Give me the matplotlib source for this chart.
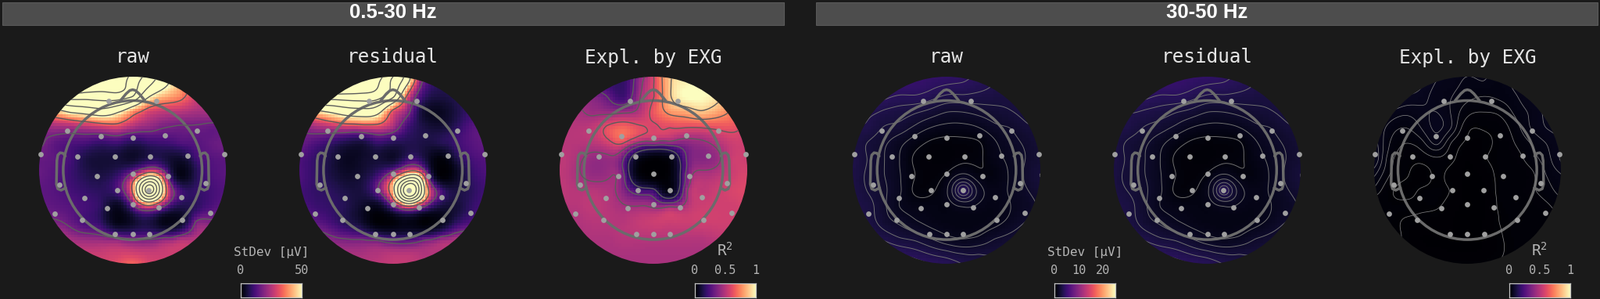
#topomaps of raw, residual and explained variance for two frequency bands

import numpy as np
import matplotlib
matplotlib.use('Agg')
import matplotlib.pyplot as plt
from matplotlib.patches import Circle, Rectangle

plt.rcParams['mathtext.fontset'] = 'dejavusans'
plt.rcParams['mathtext.default'] = 'regular'

BG = '#1a1a1a'
W, H = 2047, 382

#electrode positions, head radius units
elec_x = [-.253, .256, -.696, -.340, 0, .348, .691, -.986, -.588, -.189, .189, .588, .983, -.786, -.379, 0,
          .382, .783, -.164, .173, -.513, .518, 0, -.276, .281, -.836, .833, -.538, .532, -.187, 0, .178]
elec_y = [.738, .738, .418, .362, .343, .368, .421, .173, .145, .142, .145, .150, .167, -.153, -.067, -.042,
          -.061, -.139, -.217, -.217, -.295, -.290, -.368, -.407, -.401, -.462, -.457, -.535, -.535, -.685, -.685, -.685]

#nodes of the value tables below, head radius units
node_x = [-1.164, -.997, -.830, -.663, -.496, -.329, -.162, .006, .173, .340, .507, .674, .841, 1.008]
node_y = [1.120, .953, .786, .619, .451, .284, .117, -.050, -.217, -.384, -.552, -.719, -.886, -1.053]

#0.5-30 Hz raw, StDev
raw_low = [
    [150, 150, 150, 150, 150, 150, 135, 108, 85, 65, 48, 38, 28, 22],
    [150, 150, 150, 140, 130, 120, 112, 92, 75, 57, 42, 32, 25, 20],
    [110, 110, 100, 94, 92, 93, 95, 84, 52, 42, 37, 28, 22, 20],
    [42, 42, 44, 52, 56, 60, 52, 38, 29, 26, 25, 23, 23, 22],
    [20, 20, 22, 22, 24, 26, 28, 23, 20, 17, 16, 16, 15, 15],
    [18, 18, 14, 12, 11, 9, 10, 7, 9, 10, 12, 13, 15, 17],
    [15, 15, 14, 11, 6, 5, 5, 4, 7, 6, 4, 10, 13, 14],
    [15, 15, 13, 10, 7, 6, 9, 22, 45, 24, 2, 7, 12, 14],
    [14, 14, 13, 11, 9, 8, 12, 38, 115, 42, 11, 9, 11, 13],
    [15, 15, 14, 13, 11, 8, 3, 16, 32, 17, 7, 8, 12, 15],
    [18, 18, 18, 15, 11, 8, 2, 4, 6, 2, 3, 17, 18, 19],
    [28, 28, 26, 22, 20, 19, 17, 15, 15, 17, 21, 24, 24, 24],
    [27, 27, 27, 27, 27, 27, 28, 28, 27, 27, 27, 27, 27, 27],
    [30, 30, 30, 30, 30, 30, 32, 36, 30, 30, 30, 30, 30, 30],
]

#0.5-30 Hz residual, StDev
residual_low = [
    [150, 150, 150, 150, 150, 145, 125, 100, 60, 32, 15, 10, 10, 10],
    [150, 150, 150, 145, 135, 125, 105, 80, 52, 15, 8, 7, 7, 7],
    [110, 110, 105, 95, 95, 95, 92, 70, 28, 9, 6, 7, 8, 9],
    [42, 42, 46, 52, 58, 60, 55, 30, 18, 4, 3, 6, 10, 12],
    [18, 18, 22, 24, 26, 27, 28, 22, 10, 6, 5, 8, 13, 14],
    [18, 16, 12, 9, 6, 5, 9, 7, 7, 6, 7, 10, 13, 15],
    [13, 12, 9, 6, 3, 4, 5, 4, 10, 6, 1, 6, 11, 13],
    [13, 12, 9, 6, 4, 5, 10, 26, 50, 28, .5, 3, 9, 12],
    [12, 11, 9, 8, 6, 6, 16, 48, 125, 50, 12, 6, 8, 11],
    [12, 12, 10, 9, 7, 4, 3, 17, 36, 18, 6, 5, 9, 12],
    [18, 17, 14, 11, 7, 4, .5, 1, 2, .5, 2, 8, 12, 15],
    [24, 24, 21, 18, 16, 15, 13, 10, 10, 13, 18, 22, 22, 22],
    [24, 24, 24, 24, 23, 23, 24, 25, 25, 24, 24, 24, 24, 24],
    [26, 26, 26, 26, 26, 26, 26, 26, 26, 26, 26, 26, 26, 26],
]

#0.5-30 Hz explained by EXG, R2
expl_low = [
    [.42, .42, .35, .25, .2, .2, .3, .6, .85, .98, 1, 1, 1, 1],
    [.42, .40, .33, .25, .2, .18, .38, .6, .88, .97, 1, 1, 1, .9],
    [.42, .42, .42, .38, .3, .2, .42, .6, .88, 1, 1, .95, .82, .7],
    [.48, .48, .47, .43, .42, .43, .48, .65, .78, .82, .88, .82, .73, .65],
    [.5, .5, .5, .52, .62, .68, .62, .58, .6, .6, .6, .62, .63, .58],
    [.5, .5, .5, .5, .55, .6, .42, .38, .38, .38, .42, .48, .55, .55],
    [.52, .52, .48, .42, .42, .32, .05, .01, .03, .28, .38, .42, .55, .55],
    [.52, .52, .47, .42, .43, .35, .03, 0, .02, .3, .48, .5, .55, .58],
    [.52, .52, .5, .5, .48, .38, .22, .18, .03, .38, .52, .55, .58, .6],
    [.5, .5, .5, .52, .5, .46, .45, .42, .43, .48, .55, .56, .56, .58],
    [.48, .48, .48, .5, .5, .5, .53, .55, .55, .55, .56, .56, .56, .56],
    [.47, .47, .48, .48, .48, .5, .5, .5, .5, .5, .5, .52, .54, .54],
    [.47, .47, .47, .47, .47, .47, .47, .47, .47, .47, .47, .48, .5, .5],
    [.47, .47, .47, .47, .47, .47, .47, .47, .47, .47, .47, .47, .47, .47],
]

#30-50 Hz raw, StDev
raw_high = [
    [5, 5, 5, 5, 5, 5, 5, 4.8, 4.2, 4, 3.8, 3.5, 3.5, 3.5],
    [4.8, 4.8, 4.8, 4.8, 4.8, 4.7, 4.4, 4.2, 4.05, 3.8, 3.4, 3.2, 3.1, 3],
    [4.6, 4.6, 4.6, 4.2, 3.9, 3.9, 3.6, 3.2, 3.2, 3.1, 3, 2.9, 3, 2.9],
    [3.5, 3.5, 3.5, 3.2, 3, 2.75, 2.4, 2, 2, 2.2, 2.4, 2.6, 2.9, 3],
    [3.3, 3.3, 3.2, 2.6, 2.4, 1.8, 1.3, 1.1, 1.1, 1.3, 1.8, 2, 2.5, 2.7],
    [3.4, 3, 2.6, 2.1, 1.5, .9, .55, .45, .5, .6, 1.2, 1.7, 2.1, 2.5],
    [3.6, 3.2, 2.6, 2, 1.3, .55, .4, .35, .55, .6, 1.05, 1.5, 2, 2.4],
    [3.6, 3.1, 2.5, 2, 1.35, .65, .45, .75, 1.45, .85, .8, 1.4, 2.1, 2.7],
    [3.6, 3.1, 2.6, 2.1, 1.4, .55, .6, 1.3, 4.2, 1.75, 1.1, 1.4, 1.9, 2.4],
    [3.6, 3.2, 2.9, 2.1, 1.3, 1, .9, .95, 1.4, 1.2, 1, 1.3, 1.7, 2.1],
    [4, 3.4, 3, 2.3, 1.85, 1.4, 1.1, .95, .9, .95, 1.1, 1.5, 2, 2.2],
    [4.3, 4, 3.6, 3.1, 2.65, 2.4, 1.9, 1.45, 1.25, 1.4, 1.9, 2.2, 2.5, 2.6],
    [4.5, 4.5, 4.4, 4.2, 3.9, 3.6, 3.2, 2.9, 2.6, 2.6, 2.6, 2.7, 2.8, 2.8],
    [5, 5, 5, 5, 5, 4.6, 4.3, 4, 3.5, 3, 3, 3, 3, 3],
]

#30-50 Hz residual, StDev
residual_high = [
    [5, 5, 5, 5, 5, 5, 5, 4.8, 4.2, 4, 3.8, 3.5, 3.5, 3.5],
    [4.8, 4.8, 4.8, 4.8, 4.8, 4.7, 4.4, 4.2, 4.05, 3.8, 3.4, 3.2, 3.1, 3],
    [4.6, 4.6, 4.6, 4.2, 3.9, 3.9, 3.6, 3.2, 3.2, 3.1, 3, 2.9, 3, 2.9],
    [3.5, 3.5, 3.4, 3.2, 3, 2.7, 2.4, 2, 2, 2.2, 2.4, 2.6, 2.9, 3],
    [3.3, 3.3, 3.1, 2.6, 2.3, 1.8, 1.3, 1.1, 1.1, 1.3, 1.8, 2, 2.5, 2.7],
    [3.4, 3, 2.5, 2.1, 1.5, .9, .55, .45, .5, .6, 1.2, 1.7, 2.1, 2.5],
    [3.6, 3.1, 2.5, 2, 1.3, .55, .4, .35, .55, .6, 1, 1.5, 2, 2.4],
    [3.6, 3, 2.4, 2, 1.35, .65, .45, .75, 1.4, .85, .8, 1.4, 2.1, 2.7],
    [3.6, 3, 2.6, 2.1, 1.4, .55, .6, 1.25, 4, 1.7, 1.1, 1.4, 1.9, 2.4],
    [3.6, 3.2, 2.9, 2.1, 1.3, 1, .9, .95, 1.35, 1.2, 1, 1.3, 1.7, 2.1],
    [4, 3.4, 3, 2.3, 1.85, 1.4, 1.1, .95, .9, .95, 1.1, 1.5, 2, 2.2],
    [4.3, 4, 3.6, 3.1, 2.65, 2.4, 1.9, 1.45, 1.25, 1.4, 1.9, 2.2, 2.5, 2.6],
    [4.5, 4.5, 4.4, 4.2, 3.9, 3.6, 3.2, 2.9, 2.6, 2.6, 2.6, 2.7, 2.8, 2.8],
    [5, 5, 5, 5, 5, 4.6, 4.3, 4, 3.5, 3, 3, 3, 3, 3],
]

#30-50 Hz explained by EXG, R2
expl_high = [
    [.07, .07, .07, .07, .07, .06, .05, .045, .045, .04, .05, .055, .05, .05],
    [.07, .07, .07, .07, .065, .05, .045, .038, .04, .035, .045, .055, .05, .05],
    [.07, .07, .07, .06, .055, .045, .04, .033, .03, .032, .038, .05, .055, .055],
    [.06, .06, .05, .043, .047, .05, .038, .023, .02, .022, .032, .042, .052, .055],
    [.05, .05, .036, .03, .04, .052, .038, .012, .011, .014, .025, .04, .05, .055],
    [.055, .055, .03, .02, .025, .042, .018, .008, .008, .012, .02, .03, .04, .05],
    [.06, .06, .024, .015, .013, .018, .012, .004, .009, .012, .015, .025, .035, .052],
    [.05, .042, .02, .012, .005, .012, .006, .003, .005, .012, .013, .017, .03, .04],
    [.03, .027, .012, .007, .011, .012, .009, .002, .003, .012, .014, .018, .025, .035],
    [.015, .012, .012, .012, .011, .011, .006, .002, .003, .011, .012, .014, .018, .025],
    [.012, .012, .012, .009, .008, .006, .004, .002, .004, .01, .012, .013, .015, .02],
    [.012, .012, .012, .009, .004, .004, .004, .004, .004, .009, .012, .014, .014, .014],
    [.012, .012, .012, .008, .006, .005, .004, .004, .005, .009, .012, .014, .014, .014],
    [.012, .012, .012, .012, .012, .012, .012, .012, .012, .012, .012, .014, .014, .014],
]

#contour levels per scale
levels_low = [17, 34, 51, 68, 85, 102]
levels_high = [.67, 1.33, 2, 2.67, 3.33, 4]
levels_expl_low = [.15, .3, .45, .6, .75, .9]
levels_expl_high = [.01, .02, .03, .04, .05, .06]

#head outline, head radius units
head_r = .742
nose_x = [-.13, -.07, -.03, 0, .03, .07, .13]
nose_y = [.742, .815, .85, .858, .85, .815, .742]
ear_x = [.72, .745, .775, .80, .81, .815, .80, .765, .715]
ear_y = [.15, .18, .185, .16, .10, -.15, -.20, -.215, -.19]

titles = ['raw', 'residual', 'Expl. by EXG', 'raw', 'residual', 'Expl. by EXG']
centres = [169.7, 502.7, 836, 1211, 1544.5, 1877.3]
tables = [raw_low, residual_low, expl_low, raw_high, residual_high, expl_high]
tops = [50, 50, 1, 25, 25, 1]
levels = [levels_low, levels_low, levels_expl_low, levels_high, levels_high, levels_expl_high]
line_colors = ['#5c5c5c', '#5c5c5c', '#5c5c5c', '#707070', '#707070', '#808080']
line_widths = [1.0, 1.0, 1.0, .7, .7, .55]

centre_y = 217.3
radius = 119.7


def px_axes(fig, left, top, right, bottom):
    #make axes from pixel edges, y counted from the top
    return fig.add_axes([left / W, 1 - bottom / H, (right - left) / W, (bottom - top) / H])


def spline_basis(x, y, nx, ny):
    #thin plate terms between points and table nodes
    d2 = (x[:, None] - nx[None, :]) ** 2 + (y[:, None] - ny[None, :]) ** 2
    return np.where(d2 > 0, 0.5 * d2 * np.log(np.maximum(d2, 1e-12)), 0)


def smooth_table(table, top):
    #fit a thin plate spline through the table, on a log scale so the peaks do not ring
    nx, ny = np.meshgrid(node_x, node_y)
    nx, ny = nx.ravel(), ny.ravel()
    eps = 0.03 * top
    v = np.log(np.array(table, dtype=float).ravel() + eps)
    n = len(v)
    poly = np.column_stack([np.ones(n), nx, ny])
    A = np.zeros((n + 3, n + 3))
    A[:n, :n] = spline_basis(nx, ny, nx, ny)
    A[:n, n:] = poly
    A[n:, :n] = poly.T
    w = np.linalg.solve(A, np.concatenate([v, np.zeros(3)]))

    def field(x, y):
        s = x.shape
        x, y = x.ravel(), y.ravel()
        out = spline_basis(x, y, nx, ny) @ w[:n] + w[n] + w[n + 1] * x + w[n + 2] * y
        return (np.exp(out) - eps).reshape(s)
    return field


def draw_topo(fig, cx, table, top, lev, line_color, line_width):
    pad = 1.1
    ax = px_axes(fig, cx - pad * radius, centre_y - pad * radius, cx + pad * radius, centre_y + pad * radius)
    ax.set_xlim(-pad, pad)
    ax.set_ylim(-pad, pad)
    ax.axis('off')

    field = smooth_table(table, top)

    #blocky map, 64 cells across like the original
    edges = np.linspace(-1, 1, 65)
    mids = (edges[:-1] + edges[1:]) / 2
    mx, my = np.meshgrid(mids, mids)
    clip = Circle((0, 0), 1, transform=ax.transData)
    mesh = ax.pcolormesh(edges, edges, field(mx, my), cmap='magma', vmin=0, vmax=top, shading='flat')
    mesh.set_clip_path(clip)

    fine = np.linspace(-1, 1, 200)
    fx, fy = np.meshgrid(fine, fine)
    cs = ax.contour(fx, fy, field(fx, fy), levels=lev, colors=line_color, linewidths=line_width)
    cs.set_clip_path(clip)

    #head, nose and ears
    head = '#6b6b6b'
    ax.add_patch(Circle((0, 0), head_r, fill=False, ec=head, lw=2.5))
    ax.plot(nose_x, nose_y, color=head, lw=2.5, solid_capstyle='round')
    ax.plot(ear_x, ear_y, color=head, lw=2.5, solid_capstyle='round')
    ax.plot(-np.array(ear_x), ear_y, color=head, lw=2.5, solid_capstyle='round')
    ax.scatter(elec_x, elec_y, s=24, color='#a0a0a0', linewidths=0, zorder=5)


def draw_bar(fig, left, right, label, ticks, top):
    #small colour bar with ticks above it
    ax = px_axes(fig, left, 362, right, 380)
    ax.imshow(np.linspace(0, 1, 256)[None, :], cmap='magma', aspect='auto')
    ax.set_xticks([])
    ax.set_yticks([])
    for s in ax.spines.values():
        s.set_color('#c4c4c4')
        s.set_linewidth(.9)
    for t in ticks:
        x = left + (right - left) * t / top
        fig.text(x / W, 1 - 345.5 / H, str(t), color='#b4b4b4', family='DejaVu Sans Mono', size=11, ha='center', va='center')
    if label is not None:
        fig.text((left + right) / 2 / W, 1 - 322 / H, label, color='#b4b4b4', family='DejaVu Sans Mono', size=11.5, ha='center', va='center')


fig = plt.figure(figsize=(W / 100, H / 100), dpi=100, facecolor=BG)

#band headers
for left, right, band in [(3, 1003, '0.5-30 Hz'), (1044, 2044, '30-50 Hz')]:
    fig.add_artist(Rectangle((left / W, 1 - 32 / H), (right - left) / W, 29 / H, transform=fig.transFigure,
                             fc='#4d4d4d', ec='#5a5a5a', lw=.8))
    fig.text((left + right) / 2 / W, 1 - 16 / H, band, color='white', family='Liberation Sans', weight='bold',
             size=18.5, ha='center', va='center')

for i in range(6):
    fig.text(centres[i] / W, 1 - 80.5 / H, titles[i], color='#e4e4e4', family='DejaVu Sans Mono', size=17.6, ha='center', va='baseline')
    draw_topo(fig, centres[i], tables[i], tops[i], levels[i], line_colors[i], line_widths[i])

draw_bar(fig, 307.5, 386, 'StDev [μV]', [0, 50], 50)
draw_bar(fig, 888.5, 966.5, None, [0, 0.5, 1], 1)
draw_bar(fig, 1349, 1427, 'StDev [μV]', [0, 10, 20], 25)
draw_bar(fig, 1930.5, 2008.5, None, [0, 0.5, 1], 1)

for cx in [927.5, 1969.5]:
    fig.text(cx / W, 1 - 327 / H, 'R$^{2}$', color='#b4b4b4', family='DejaVu Sans Mono', size=14, ha='center', va='baseline')

fig.savefig('out.png', dpi=100, facecolor=BG)
